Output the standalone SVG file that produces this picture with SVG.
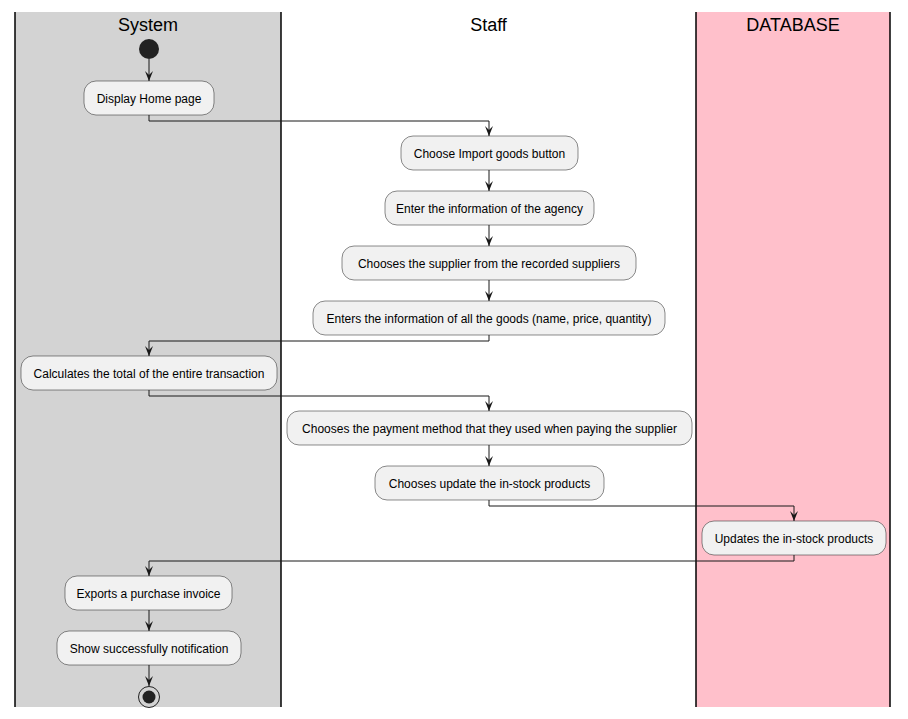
<svg xmlns="http://www.w3.org/2000/svg" width="908" height="719" viewBox="0 0 908 719">
<style>
.lane-title{font-family:"Liberation Sans",Arial,sans-serif;font-size:18px;fill:#000;text-anchor:middle}
.act rect{fill:#F1F1F1;stroke:#181818;stroke-width:0.5}
.act text{font-family:"Liberation Sans",Arial,sans-serif;font-size:12px;fill:#000;text-anchor:middle}
.conn{fill:none;stroke:#181818;stroke-width:1}
.lane-line{stroke:#000;stroke-width:1.5}
</style>
<defs>
<marker id="ah" markerWidth="12" markerHeight="10" refX="10" refY="5" orient="auto" markerUnits="userSpaceOnUse" viewBox="0 0 12 10">
<path d="M0,1 L10,5 L0,9 L4,5 Z" fill="#181818"/>
</marker>
</defs>
<rect x="0" y="0" width="908" height="719" fill="#fff"/>
<g id="lanes">
<rect x="15" y="12" width="266" height="695" fill="#D3D3D3"/>
<rect x="696" y="12" width="194" height="695" fill="#FFC0CB"/>
<line class="lane-line" x1="15" y1="12" x2="15" y2="707"/>
<line class="lane-line" x1="281" y1="12" x2="281" y2="707"/>
<line class="lane-line" x1="696" y1="12" x2="696" y2="707"/>
<line class="lane-line" x1="890" y1="12" x2="890" y2="707"/>
<text class="lane-title" x="148" y="31">System</text>
<text class="lane-title" x="488.5" y="31">Staff</text>
<text class="lane-title" x="793" y="31">DATABASE</text>
</g>
<g id="connectors">
<path class="conn" d="M149,59 V81" marker-end="url(#ah)"/>
<path class="conn" d="M149,115 V121 H489 V136" marker-end="url(#ah)"/>
<path class="conn" d="M489,170 V191" marker-end="url(#ah)"/>
<path class="conn" d="M489,225 V246" marker-end="url(#ah)"/>
<path class="conn" d="M489,280 V301" marker-end="url(#ah)"/>
<path class="conn" d="M489,335 V341 H149 V356" marker-end="url(#ah)"/>
<path class="conn" d="M149,390 V396 H489 V411" marker-end="url(#ah)"/>
<path class="conn" d="M489,445 V466" marker-end="url(#ah)"/>
<path class="conn" d="M489,500 V506 H794 V521" marker-end="url(#ah)"/>
<path class="conn" d="M794,555 V561 H149 V576" marker-end="url(#ah)"/>
<path class="conn" d="M149,610 V631" marker-end="url(#ah)"/>
<path class="conn" d="M149,665 V686" marker-end="url(#ah)"/>
</g>
<g id="start"><circle cx="149" cy="49" r="10" fill="#222"/></g>
<g id="n1" class="act"><rect x="84" y="81" width="130" height="34" rx="12"/><text x="149" y="102.5">Display Home page</text></g>
<g id="n2" class="act"><rect x="401" y="136" width="177" height="34" rx="12"/><text x="489.5" y="157.5">Choose Import goods button</text></g>
<g id="n3" class="act"><rect x="385" y="191" width="209" height="34" rx="12"/><text x="489.5" y="212.5">Enter the information of the agency</text></g>
<g id="n4" class="act"><rect x="342" y="246" width="294" height="34" rx="12"/><text x="489" y="267.5">Chooses the supplier from the recorded suppliers</text></g>
<g id="n5" class="act"><rect x="313" y="301" width="352" height="34" rx="12"/><text x="489" y="322.5">Enters the information of all the goods (name, price, quantity)</text></g>
<g id="n6" class="act"><rect x="21" y="356" width="256" height="34" rx="12"/><text x="149" y="377.5">Calculates the total of the entire transaction</text></g>
<g id="n7" class="act"><rect x="287" y="411" width="405" height="34" rx="12"/><text x="489.5" y="432.5">Chooses the payment method that they used when paying the supplier</text></g>
<g id="n8" class="act"><rect x="375" y="466" width="229" height="34" rx="12"/><text x="489.5" y="487.5">Chooses update the in-stock products</text></g>
<g id="n9" class="act"><rect x="702" y="521" width="184" height="34" rx="12"/><text x="794" y="542.5">Updates the in-stock products</text></g>
<g id="n10" class="act"><rect x="65" y="576" width="167" height="34" rx="12"/><text x="148.5" y="597.5">Exports a purchase invoice</text></g>
<g id="n11" class="act"><rect x="57" y="631" width="184" height="34" rx="12"/><text x="149" y="652.5">Show successfully notification</text></g>
<g id="end"><circle cx="149" cy="697" r="10.5" fill="none" stroke="#222" stroke-width="1"/><circle cx="149" cy="697" r="6.5" fill="#222"/></g>
</svg>
